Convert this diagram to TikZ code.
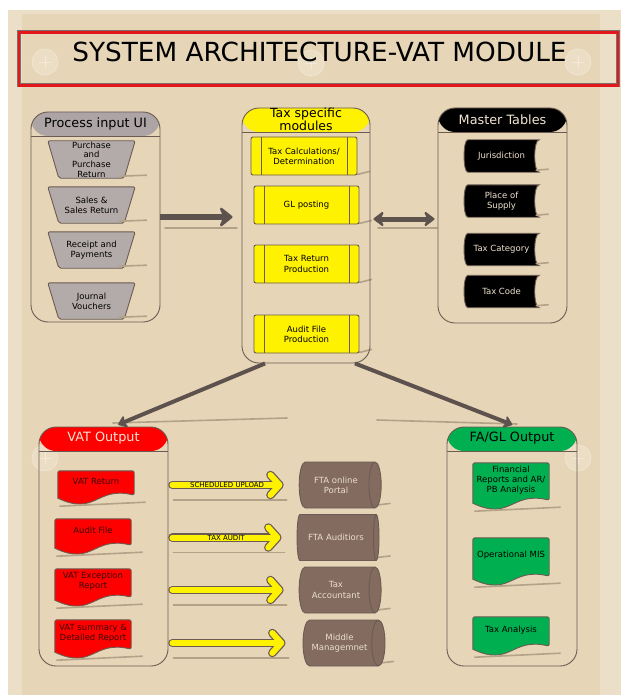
\documentclass[tikz,border=0pt]{standalone}
\usepackage{fontspec}
\setmainfont{DejaVu Sans}
\usetikzlibrary{shapes.geometric,shapes.misc,arrows.meta}
\pgfdeclarelayer{back}
\pgfdeclarelayer{under}
\pgfsetlayers{back,under,main}

\definecolor{paper}{HTML}{E6D6B7}
\definecolor{paperlt}{HTML}{ECDFC7}
\definecolor{edge}{HTML}{6B5B52}
\definecolor{arrowbr}{HTML}{5E524E}
\definecolor{hdrgray}{HTML}{ADA5A5}
\definecolor{trapgray}{HTML}{B3AAAA}
\definecolor{cylbr}{HTML}{836B60}
\definecolor{cyltxt}{HTML}{EBDDCC}
\definecolor{okgreen}{HTML}{00B050}
\definecolor{shade}{HTML}{B3A287}
\definecolor{framered}{HTML}{E3171C}
\definecolor{framegray}{HTML}{7D6E6A}
\definecolor{lighttxt}{HTML}{F2E4D2}
\definecolor{redtxt}{HTML}{3A0808}

% shapes drawn behind their text nodes
\newcommand\trapfig[1]{\draw[border, fill=trapgray, rounded corners=2pt]
  (#1.north west) -- (#1.north east) -- ([xshift=-11pt]#1.south east)
  -- ([xshift=11pt]#1.south west) -- cycle;}
\newcommand\docfig[2]{\draw[border, fill=#2, rounded corners=2pt]
  (#1.north west) -- (#1.north east) -- ([yshift=-3pt]#1.south east)
  [sharp corners] .. controls ([yshift=6pt]#1.south) and ([yshift=-24pt]#1.south) ..
  ([yshift=-6pt]#1.south west) [rounded corners=2pt] -- cycle;}
\newcommand\storefig[1]{\draw[border, fill=black]
  ([xshift=4pt]#1.north west) -- (#1.north east)
  .. controls ([xshift=-6pt]#1.north east) and ([xshift=-6pt]#1.south east) .. (#1.south east)
  -- ([xshift=4pt]#1.south west)
  .. controls ([xshift=-1pt]#1.south west) and ([xshift=-1pt]#1.north west) .. ([xshift=4pt]#1.north west) -- cycle;}

\tikzset{
  border/.style={draw=edge, line width=0.9pt},
  container/.style={border, rounded corners=17pt, inner sep=0pt,
    path picture={
      \fill[#1] (path picture bounding box.north west)
        rectangle ([yshift=-24pt]path picture bounding box.north east);
      \draw[edge, line width=0.9pt] ([yshift=-24pt]path picture bounding box.north west)
        -- ([yshift=-24pt]path picture bounding box.north east);}},
  hdr/.style={font=\fontsize{12.8}{13.6}\selectfont, inner sep=0pt, align=center},
  small/.style={font=\fontsize{8.5}{10.2}\selectfont, align=center, inner sep=0pt},
  item/.style={small, minimum width=#1},
  procbox/.style={small, border, fill=yellow, rounded corners=2pt,
    minimum width=105pt, minimum height=38pt,
    path picture={
      \draw[edge, line width=0.9pt]
        ([xshift=10pt]path picture bounding box.north west) -- ([xshift=10pt]path picture bounding box.south west)
        ([xshift=-10pt]path picture bounding box.north east) -- ([xshift=-10pt]path picture bounding box.south east);}},
  cyl/.style={small, cylinder, shape aspect=0.65, draw=edge, line width=0.9pt,
    fill=cylbr, text=cyltxt, minimum width=46pt, minimum height=82pt, inner sep=1pt},
  shadowline/.style={draw=shade, line width=1.6pt, line cap=round},
  bigarrow/.style={draw=arrowbr, line width=6.5pt,
    -{Stealth[length=15pt, width=24pt, inset=5pt, round]}},
  dblarrow/.style={draw=arrowbr, line width=5pt,
    {Stealth[length=12pt, width=18pt, inset=4pt, round]}-{Stealth[length=12pt, width=18pt, inset=4pt, round]}},
  diagarrow/.style={draw=arrowbr, line width=4pt,
    -{Stealth[length=10pt, width=15pt, inset=3pt, round]}},
  yelout/.style={draw=edge, line width=8.5pt, line cap=round, shorten <=4pt, shorten >=15pt,
    -{Straight Barb[length=9pt, width=20pt, round]}},
  yelin/.style={draw=yellow, line width=6pt, line cap=round, shorten <=4pt, shorten >=16.25pt,
    -{Straight Barb[length=9pt, width=20pt, round]}},
  flowlabel/.style={font=\fontsize{7}{7}\selectfont, inner sep=0pt, text=black},
}

\begin{document}
\begin{tikzpicture}[x=1pt, y=-1pt]
\useasboundingbox (0,0) rectangle (621,695);

\begin{pgfonlayer}{back}
  \fill[white] (0,0) rectangle (621,695);
  \fill[paperlt] (8,10) rectangle (621,695);
  \fill[paper] (22,14) rectangle (600,695);
  % faint screw heads
  \foreach \cx/\cy in {45/62, 311/63, 578/62, 45/458, 578/458} {
    \fill[white, opacity=0.2] (\cx,\cy) circle (13pt);
    \draw[white, opacity=0.3, line width=0.8pt] (\cx,\cy) circle (13pt);
    \draw[white, opacity=0.35, line width=0.8pt] (\cx-6,\cy) -- (\cx+6,\cy) (\cx,\cy-6) -- (\cx,\cy+6);
  }
\end{pgfonlayer}

% title banner
\node (titleframe) [chamfered rectangle, chamfered rectangle xsep=4pt, chamfered rectangle ysep=4pt,
  draw=framegray, double=framered, inner sep=0pt,
  double distance=2.4pt, line width=0.8pt, minimum width=599pt, minimum height=53pt] at (318.5,59) {};
\node (title) [font=\fontsize{26.3}{28}\selectfont, inner sep=0pt] at (319.5,52) {SYSTEM ARCHITECTURE-VAT MODULE};

% group containers
\node (pin)  [container=hdrgray, minimum width=129pt, minimum height=210pt] at (95.5,217) {};
\node (tax)  [container=yellow,  minimum width=128pt, minimum height=255pt] at (306,235.5) {};
\node (mt)   [container=black,   minimum width=129pt, minimum height=215pt] at (502.5,215.5) {};
\node (vat)  [container=red,     minimum width=129pt, minimum height=239pt] at (103.5,546.5) {};
\node (fagl) [container=okgreen, minimum width=130pt, minimum height=239pt] at (512,546.5) {};

\node (pinT)  [hdr] at ([yshift=-12pt]pin.north) {Process input UI};
\node (taxT)  [hdr, font=\fontsize{12.5}{13.5}\selectfont] at ([yshift=-12pt]tax.north) {Tax specific\\modules};
\node (mtT)   [hdr, text=lighttxt] at ([yshift=-12pt]mt.north) {Master Tables};
\node (vatT)  [hdr, text=lighttxt] at ([yshift=-12pt]vat.north) {VAT Output};
\node (faglT) [hdr] at ([yshift=-12pt]fagl.north) {FA/GL Output};

% input screens
\node (t1) [item=87pt, minimum height=37pt, font=\fontsize{8.5}{9.6}\selectfont] at (91.5,159.5) {Purchase\\and\\Purchase\\Return};
\node (t2) [item=87pt, minimum height=36pt] at (91.5,205) {Sales \&\\Sales Return};
\node (t3) [item=87pt, minimum height=36pt] at (91.5,250) {Receipt and\\Payments};
\node (t4) [item=87pt, minimum height=36pt] at (91.5,301) {Journal\\Vouchers};

% tax modules
\node (y1) [procbox, minimum width=106pt] at (304,156) {Tax Calculations/\\Determination};
\node (y2) [procbox] at (306.5,205) {GL posting};
\node (y3) [procbox] at (306.5,264) {Tax Return\\Production};
\node (y4) [procbox] at (306.5,334) {Audit File\\Production};

% master tables
\node (m1) [item=75pt, minimum height=32pt, text=lighttxt] at (501.5,156) {Jurisdiction};
\node (m2) [item=75pt, minimum height=32pt, text=lighttxt] at (501.5,201) {Place of\\Supply};
\node (m3) [item=75pt, minimum height=32pt, text=lighttxt] at (501.5,249.5) {Tax Category};
\node (m4) [item=75pt, minimum height=32pt, text=lighttxt] at (501.5,291.5) {Tax Code};

% VAT reports
\node (d1) [item=76pt, minimum height=21pt, text=redtxt] at (96,481.5) {VAT Return};
\node (d2) [item=76pt, minimum height=23pt, text=redtxt] at (93,530.5) {Audit File};
\node (d3) [item=76pt, minimum height=25pt, text=redtxt] at (93,581.5) {VAT Exception\\Report};
\node (d4) [item=76pt, minimum height=26pt, text=redtxt] at (93,633) {VAT summary \&\\Detailed Report};

% FA/GL reports
\node (g1) [item=76pt, minimum height=34pt] at (511,480) {Financial\\Reports and AR/\\PB Analysis};
\node (g2) [item=76pt, minimum height=35pt] at (511,555.5) {Operational MIS};
\node (g3) [item=76pt, minimum height=26pt] at (511,630) {Tax Analysis};

% recipients
\node (c1) [cyl] at (336,485) {FTA online\\Portal};
\node (c2) [cyl] at (336,537.5) {FTA Auditiors};
\node (c3) [cyl] at (336,590) {Tax\\Accountant};
\node (c4) [cyl] at (339.5,643) {Middle\\Managemnet};

\begin{pgfonlayer}{under}
  \foreach \n in {t1,t2,t3,t4} {\trapfig{\n}}
  \foreach \n in {m1,m2,m3,m4} {\storefig{\n}}
  \foreach \n in {d1,d2,d3,d4} {\docfig{\n}{red}}
  \foreach \n in {g1,g2,g3} {\docfig{\n}{okgreen}}
  % soft shadows
  \foreach \n in {t1,t2,t3,t4}
    {\draw[shadowline] ([xshift=28pt,yshift=2pt]\n.south) -- ([xshift=55pt,yshift=3pt]\n.south);}
  \foreach \n in {y1,y2,y3,y4}
    {\draw[shadowline] ([yshift=1pt]\n.south east) -- ([xshift=12pt,yshift=4pt]\n.south east);}
  \foreach \n in {m1,m2,m3,m4}
    {\draw[shadowline] ([xshift=-3pt,yshift=2pt]\n.south east) -- ([xshift=9pt,yshift=3pt]\n.south east);}
  \foreach \n in {d1,d2,d3,d4,g1,g2,g3}
    {\draw[shadowline] ([xshift=2pt,yshift=-14pt]\n.south west) -- ([xshift=11pt,yshift=-10pt]\n.south east);}
  \foreach \n in {c1,c2,c3,c4}
    {\draw[shadowline] ([xshift=37pt,yshift=3pt]\n.south) -- ([xshift=54pt,yshift=5pt]\n.south);}
  \draw[shadowline] (165,228) -- (237,228);
  \draw[shadowline] (378,228) -- (437,228);
  \draw[shadowline] (113,423) -- (287,418);
  \draw[shadowline] (377,420) -- (517,424);
  \foreach \n in {c1,c2,c3}
    {\draw[shadowline] ([yshift=-15pt]vat.east |- \n.west) ++(5,0) -- ([xshift=-12pt,yshift=-15pt]\n.west);}
  \draw[shadowline] ([yshift=-15pt]vat.east |- c4.west) ++(5,0) -- ([xshift=-14pt,yshift=-15pt]c4.west);
\end{pgfonlayer}

% flows between groups
\draw[bigarrow] (pin.east) -- ([xshift=-9pt]tax.west |- pin.east);
\draw[dblarrow] ([xshift=3pt,yshift=-3.5pt]tax.east |- mt.west) -- ([xshift=-3pt,yshift=-3.5pt]mt.west);
\draw[diagarrow, shorten >=5pt] ([xshift=-41pt]tax.south) -- ([xshift=10pt]vat.north);
\draw[diagarrow, shorten >=5pt] ([xshift=49pt]tax.south) -- ([xshift=5pt]fagl.north);

% report delivery
\draw[yelout] (vat.east |- c1.west) -- (c1.west);
\draw[yelin]  (vat.east |- c1.west) -- node (lab1) [flowlabel, pos=0.45] {SCHEDULED UPLOAD} (c1.west);
\draw[yelout] (vat.east |- c2.west) -- (c2.west);
\draw[yelin]  (vat.east |- c2.west) -- node (lab2) [flowlabel, pos=0.45] {TAX AUDIT} (c2.west);
\draw[yelout] (vat.east |- c3.west) -- (c3.west);
\draw[yelin]  (vat.east |- c3.west) -- (c3.west);
\draw[yelout, shorten >=17pt] (vat.east |- c4.west) -- (c4.west);
\draw[yelin, shorten >=18.25pt]  (vat.east |- c4.west) -- (c4.west);
\end{tikzpicture}
\end{document}
